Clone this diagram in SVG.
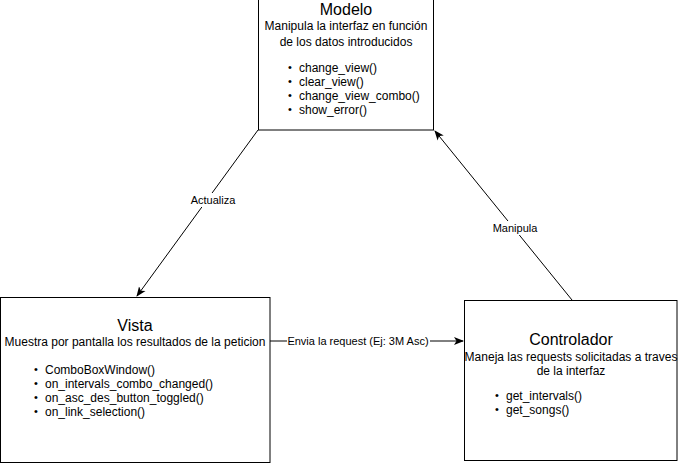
<svg xmlns="http://www.w3.org/2000/svg" width="681" height="464" viewBox="0 0 681 464">
<style>
.box{fill:#fff;stroke:#000;stroke-width:1}
.t{font-family:"Liberation Sans",Arial,sans-serif;fill:#000}
.title{font-size:16px;text-anchor:middle}
.desc{font-size:12px;text-anchor:middle}
.item{font-size:12px}
.bul{font-size:11px}
.lbl{font-family:"Liberation Sans",Arial,sans-serif;font-size:11px;text-anchor:middle;fill:#000}
.edge{fill:none;stroke:#000;stroke-width:1}
</style>
<defs>
<marker id="arr" viewBox="0 0 10 10" refX="9" refY="5" markerWidth="10" markerHeight="10" markerUnits="userSpaceOnUse" orient="auto">
<path d="M0,1 L10,5 L0,9 L2.5,5 Z" fill="#000"/>
</marker>
</defs>
<rect width="681" height="464" fill="#fff"/>
<g id="connectors">
<line class="edge" x1="258" y1="130" x2="137" y2="296" marker-end="url(#arr)"/>
<rect x="189" y="193" width="49" height="14" fill="#fff"/>
<text class="lbl" x="213" y="204">Actualiza</text>
<line class="edge" x1="572" y1="300" x2="435" y2="131" marker-end="url(#arr)"/>
<rect x="490" y="221" width="50" height="14" fill="#fff"/>
<text class="lbl" x="515" y="232">Manipula</text>
<line class="edge" x1="270" y1="341" x2="463" y2="341" marker-end="url(#arr)"/>
<rect x="287" y="334" width="143" height="14" fill="#fff"/>
<text class="lbl" x="358" y="345">Envia la request (Ej: 3M Asc)</text>
</g>
<g id="modelo">
<rect class="box" x="258.5" y="-0.5" width="175" height="130.5"/>
<text class="t title" x="346" y="15">Modelo</text>
<text class="t desc" x="346" y="30">Manipula la interfaz en función</text>
<text class="t desc" x="346" y="46">de los datos introducidos</text>
<g class="t bul"><text x="288" y="71">•</text><text x="288" y="85">•</text><text x="288" y="99">•</text><text x="288" y="113">•</text></g>
<text class="t item" x="299" y="72">change_view()</text>
<text class="t item" x="299" y="86">clear_view()</text>
<text class="t item" x="299" y="100">change_view_combo()</text>
<text class="t item" x="299" y="114">show_error()</text>
</g>
<g id="vista">
<rect class="box" x="0.5" y="297.5" width="269.5" height="165"/>
<text class="t title" x="135" y="331">Vista</text>
<text class="t desc" x="135" y="346">Muestra por pantalla los resultados de la peticion</text>
<g class="t bul"><text x="34" y="373">•</text><text x="34" y="387">•</text><text x="34" y="401">•</text><text x="34" y="415">•</text></g>
<text class="t item" x="45" y="374">ComboBoxWindow()</text>
<text class="t item" x="45" y="388">on_intervals_combo_changed()</text>
<text class="t item" x="45" y="402">on_asc_des_button_toggled()</text>
<text class="t item" x="45" y="416">on_link_selection()</text>
</g>
<g id="controlador">
<rect class="box" x="464.5" y="300.5" width="212.5" height="160"/>
<text class="t title" x="571" y="345">Controlador</text>
<text class="t desc" x="571" y="361">Maneja las requests solicitadas a traves</text>
<text class="t desc" x="571" y="375">de la interfaz</text>
<g class="t bul"><text x="495" y="399">•</text><text x="495" y="413">•</text></g>
<text class="t item" x="506" y="400">get_intervals()</text>
<text class="t item" x="506" y="414">get_songs()</text>
</g>
</svg>
